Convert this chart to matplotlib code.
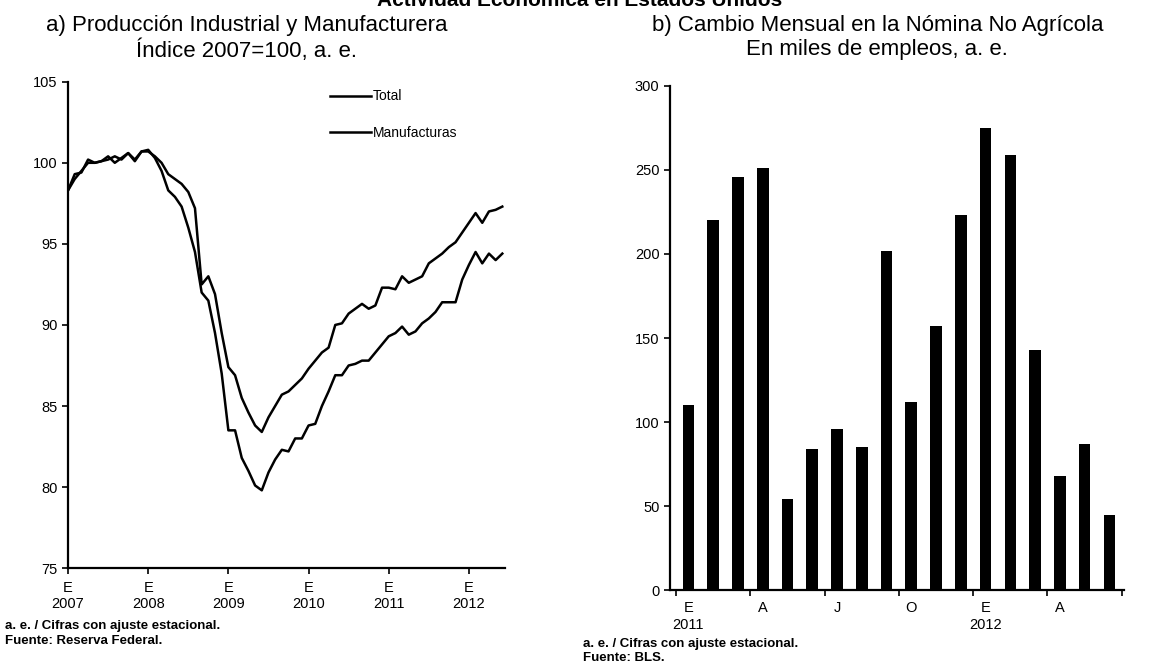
import matplotlib
matplotlib.use("Agg")
import matplotlib.pyplot as plt
import numpy as np

plt.rcParams['font.family'] = ['Liberation Sans', 'DejaVu Sans']

# a) Produccion industrial, indice 2007=100 (mensual, ene-2007 a jun-2012)
total = [98.3, 99.3, 99.4, 100.2, 100.0, 100.1, 100.2, 100.4, 100.2, 100.6, 100.2, 100.7,
         100.7, 100.4, 100.0, 99.3, 99.0, 98.7, 98.2, 97.2, 92.5, 93.0, 91.9, 89.5,
         87.4, 86.9, 85.5, 84.6, 83.8, 83.4, 84.3, 85.0, 85.7, 85.9, 86.3, 86.7,
         87.3, 87.8, 88.3, 88.6, 90.0, 90.1, 90.7, 91.0, 91.3, 91.0, 91.2, 92.3,
         92.3, 92.2, 93.0, 92.6, 92.8, 93.0, 93.8, 94.1, 94.4, 94.8, 95.1, 95.7,
         96.3, 96.9, 96.3, 97.0, 97.1, 97.3]
manuf = [98.3, 99.0, 99.5, 100.0, 100.0, 100.1, 100.4, 100.0, 100.3, 100.6, 100.1, 100.7,
         100.8, 100.3, 99.5, 98.3, 97.9, 97.3, 96.0, 94.5, 92.0, 91.5, 89.5, 87.0,
         83.5, 83.5, 81.8, 81.0, 80.1, 79.8, 80.9, 81.7, 82.3, 82.2, 83.0, 83.0,
         83.8, 83.9, 85.0, 85.9, 86.9, 86.9, 87.5, 87.6, 87.8, 87.8, 88.3, 88.8,
         89.3, 89.5, 89.9, 89.4, 89.6, 90.1, 90.4, 90.8, 91.4, 91.4, 91.4, 92.8,
         93.7, 94.5, 93.8, 94.4, 94.0, 94.4]
years_a = ['2007', '2008', '2009', '2010', '2011', '2012']

# b) Cambio mensual en la nomina no agricola (miles), ene-2011 a jun-2012
nomina = [110, 220, 246, 251, 54, 84, 96, 85, 202, 112, 157, 223,
          275, 259, 143, 68, 87, 45]
meses_b = ['E\n2011', 'A', 'J', 'O', 'E\n2012', 'A']

fig = plt.figure(figsize=(11.59, 6.70), dpi=100)

fig.text(0.5, 0.999, 'Actividad Económica en Estados Unidos', ha='center', va='center',
         fontsize=15, fontweight='bold')

# ---- panel a
ax1 = fig.add_axes([0.0587, 0.152, 0.377, 0.726])
x = np.arange(len(total))
ax1.plot(x, total, color='black', lw=1.8, label='Total')
ax1.plot(x, manuf, color='black', lw=1.8, label='Manufacturas')
ax1.set_xlim(0, 65.4)
ax1.set_ylim(75, 105)
ax1.set_yticks([75, 80, 85, 90, 95, 100, 105])
ax1.set_xticks(np.arange(len(years_a)) * 12)
ax1.set_xticklabels(['E\n' + y for y in years_a])
for s in ['top', 'right']:
    ax1.spines[s].set_visible(False)
for s in ['left', 'bottom']:
    ax1.spines[s].set_linewidth(1.6)
ax1.tick_params(axis='both', direction='out', length=4, width=1.2, labelsize=10.5)
ax1.tick_params(axis='x', pad=5)
ax1.legend(loc='upper left', bbox_to_anchor=(0.57, 1.01), frameon=False, fontsize=10,
           handlelength=3.0, handletextpad=0.1, labelspacing=1.6)
fig.text(0.213, 0.978, 'a) Producción Industrial y Manufacturera\nÍndice 2007=100, a. e.',
         ha='center', va='top', fontsize=16, linespacing=1.2)
fig.text(0.004, 0.054, 'a. e. / Cifras con ajuste estacional.\nFuente: Reserva Federal.',
         ha='left', va='center', fontsize=9.5, fontweight='bold', linespacing=1.35)

# ---- panel b
ax2 = fig.add_axes([0.578, 0.119, 0.392, 0.753])
xb = np.arange(len(nomina))
ax2.bar(xb, nomina, width=0.47, color='black')
ax2.set_xlim(-0.75, 17.6)
ax2.set_ylim(0, 300)
ax2.set_yticks(np.arange(0, 301, 50))
ax2.set_xticks(np.arange(0, 18, 3))
ax2.set_xticklabels(meses_b)
ax2.set_xticks(np.arange(-0.5, 18, 3), minor=True)
for s in ['top', 'right']:
    ax2.spines[s].set_visible(False)
for s in ['left', 'bottom']:
    ax2.spines[s].set_linewidth(1.6)
ax2.tick_params(axis='y', direction='out', length=4, width=1.2, labelsize=10.5)
ax2.tick_params(axis='x', which='major', length=0, labelsize=10.5, pad=8)
ax2.tick_params(axis='x', which='minor', direction='out', length=4, width=1.2)
fig.text(0.757, 0.978, 'b) Cambio Mensual en la Nómina No Agrícola\nEn miles de empleos, a. e.',
         ha='center', va='top', fontsize=16, linespacing=1.2)
fig.text(0.503, 0.028, 'a. e. / Cifras con ajuste estacional.\nFuente: BLS.',
         ha='left', va='center', fontsize=9.5, fontweight='bold', linespacing=1.25)

fig.savefig('out.png', dpi=100)
